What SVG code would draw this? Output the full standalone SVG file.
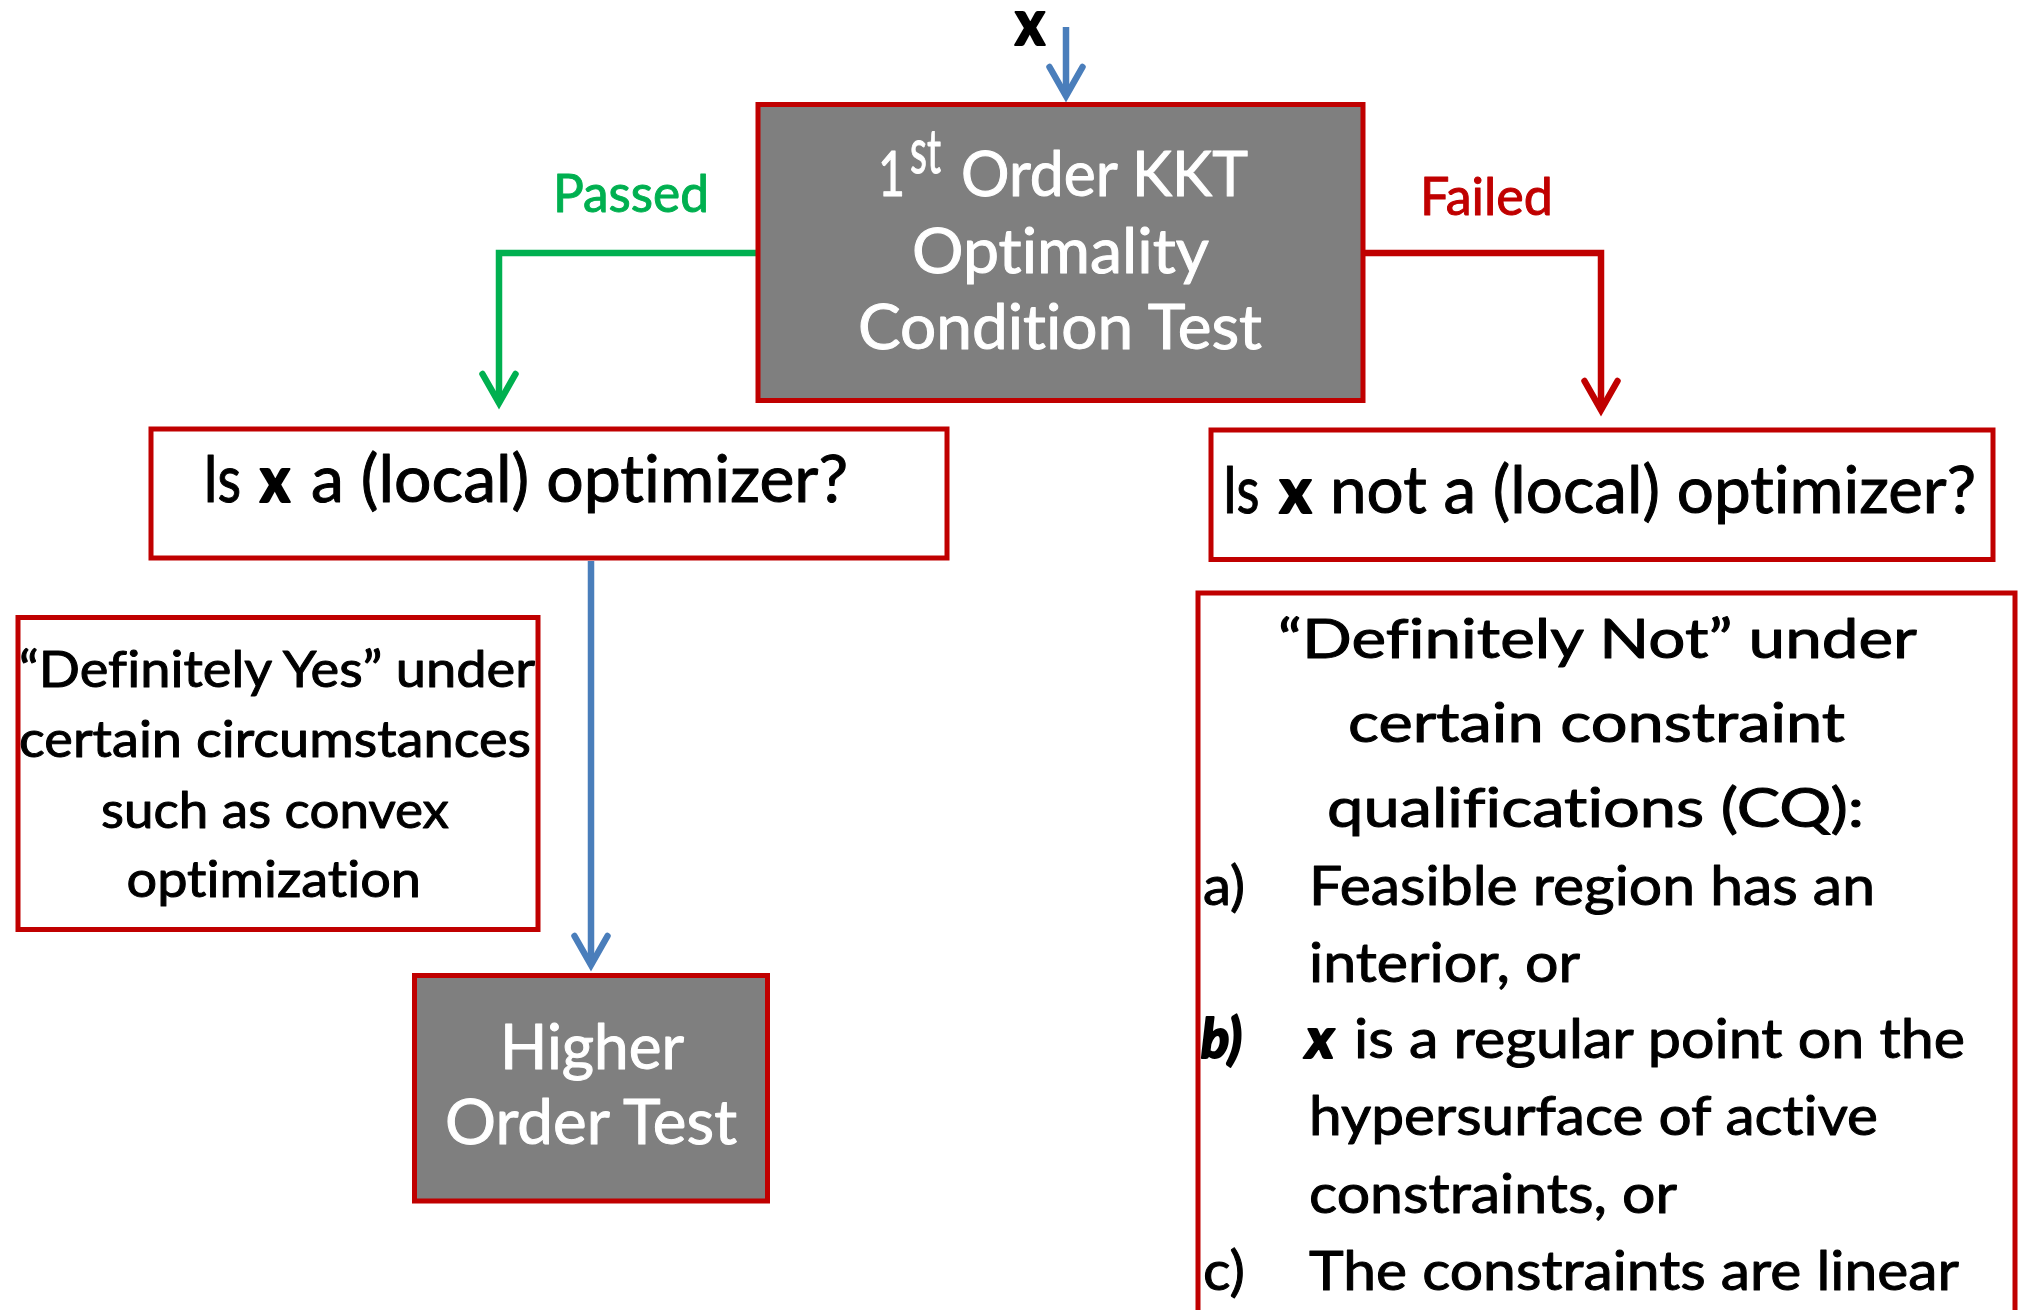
<svg xmlns="http://www.w3.org/2000/svg" width="2025" height="1310" viewBox="0 0 2025 1310">
  <style>
    .box { fill: #ffffff; stroke: #C00000; stroke-width: 5; }
    .dark { fill: #7F7F7F; stroke: #C00000; stroke-width: 5; }
    text { font-family: Lato, "Open Sans", "Liberation Sans", sans-serif; font-variant-ligatures: none; stroke-width: 1; stroke-linejoin: round; }
    .w { fill: #ffffff; stroke: #ffffff; font-size: 62px; }
    .q { fill: #000000; stroke: #000000; font-size: 65px; }
    .s { fill: #000000; stroke: #000000; font-size: 50px; }
    .n { fill: #000000; stroke: #000000; font-size: 55px; }
    .b { font-weight: 900; stroke-width: 2; }
    .bi { font-weight: 900; font-style: italic; stroke-width: 2; }
    .conn { fill: none; stroke-width: 6.5; stroke-linejoin: miter; }
  </style>
  <defs>
    <marker id="headBlue" markerUnits="userSpaceOnUse" markerWidth="60" markerHeight="60" refX="0" refY="0" orient="auto" overflow="visible">
      <path d="M-29,-16.5 L0,0 L-29,16.5" fill="none" stroke="#4A7EBB" stroke-width="6.5" stroke-linecap="round" stroke-linejoin="miter"/>
    </marker>
    <marker id="headGreen" markerUnits="userSpaceOnUse" markerWidth="60" markerHeight="60" refX="0" refY="0" orient="auto" overflow="visible">
      <path d="M-29,-16.5 L0,0 L-29,16.5" fill="none" stroke="#00B050" stroke-width="6.5" stroke-linecap="round" stroke-linejoin="miter"/>
    </marker>
    <marker id="headRed" markerUnits="userSpaceOnUse" markerWidth="60" markerHeight="60" refX="0" refY="0" orient="auto" overflow="visible">
      <path d="M-29,-16.5 L0,0 L-29,16.5" fill="none" stroke="#C00000" stroke-width="6.5" stroke-linecap="round" stroke-linejoin="miter"/>
    </marker>
  </defs>

  <!-- input label -->
  <g id="input-x">
    <text x="1015" y="45" class="q b" font-size="62" textLength="30" lengthAdjust="spacingAndGlyphs">x</text>
  </g>

  <!-- connectors -->
  <g id="connectors">
    <path class="conn" stroke="#4A7EBB" d="M1066,27 L1066,96" marker-end="url(#headBlue)"/>
    <path class="conn" stroke="#00B050" d="M757,253 L499,253 L499,403" marker-end="url(#headGreen)"/>
    <path class="conn" stroke="#C00000" d="M1365,253 L1601,253 L1601,410" marker-end="url(#headRed)"/>
    <path class="conn" stroke="#4A7EBB" d="M591,561 L591,965" marker-end="url(#headBlue)"/>
    <text x="553" y="212" fill="#00B050" stroke="#00B050" font-size="53" textLength="156" lengthAdjust="spacingAndGlyphs">Passed</text>
    <text x="1420" y="215" fill="#C00000" stroke="#C00000" font-size="53" textLength="133" lengthAdjust="spacingAndGlyphs">Failed</text>
  </g>

  <!-- first-order KKT test -->
  <g id="kkt-test">
    <rect class="dark" x="758" y="104.5" width="605" height="296"/>
    <text x="878" y="196" class="w" textLength="27" lengthAdjust="spacingAndGlyphs">1</text>
    <text x="910" y="173" class="w" font-size="37" textLength="31" lengthAdjust="spacingAndGlyphs">st</text>
    <text x="961" y="196" class="w" textLength="287" lengthAdjust="spacingAndGlyphs">Order KKT</text>
    <text x="912" y="273" class="w" textLength="297" lengthAdjust="spacingAndGlyphs">Optimality</text>
    <text x="858" y="349" class="w" textLength="404" lengthAdjust="spacingAndGlyphs">Condition Test</text>
  </g>

  <!-- passed branch question -->
  <g id="is-optimizer">
    <rect class="box" x="151" y="429" width="796" height="129"/>
    <text y="502" class="q">
      <tspan x="203" textLength="38" lengthAdjust="spacingAndGlyphs">Is</tspan>
      <tspan x="260" class="b" textLength="30" lengthAdjust="spacingAndGlyphs">x</tspan>
      <tspan x="311" textLength="537" lengthAdjust="spacingAndGlyphs">a (local) optimizer?</tspan>
    </text>
  </g>

  <!-- failed branch question -->
  <g id="is-not-optimizer">
    <rect class="box" x="1211" y="430" width="782" height="129.5"/>
    <text y="513" class="q">
      <tspan x="1222.5" textLength="37" lengthAdjust="spacingAndGlyphs">Is</tspan>
      <tspan x="1279.5" class="b" textLength="32" lengthAdjust="spacingAndGlyphs">x</tspan>
      <tspan x="1330" textLength="646" lengthAdjust="spacingAndGlyphs">not a (local) optimizer?</tspan>
    </text>
  </g>

  <!-- convex case note -->
  <g id="definitely-yes">
    <rect class="box" x="18" y="617.5" width="520" height="312"/>
    <text x="19" y="687" class="s" textLength="516" lengthAdjust="spacingAndGlyphs">“Definitely Yes” under</text>
    <text x="19" y="757" class="s" textLength="512" lengthAdjust="spacingAndGlyphs">certain circumstances</text>
    <text x="101" y="828" class="s" textLength="348" lengthAdjust="spacingAndGlyphs">such as convex</text>
    <text x="126.5" y="897" class="s" textLength="294.5" lengthAdjust="spacingAndGlyphs">optimization</text>
  </g>

  <!-- higher order test -->
  <g id="higher-order-test">
    <rect class="dark" x="414.5" y="975.5" width="353" height="225.5"/>
    <text x="500" y="1069" class="w" textLength="184" lengthAdjust="spacingAndGlyphs">Higher</text>
    <text x="445" y="1144" class="w" textLength="292" lengthAdjust="spacingAndGlyphs">Order Test</text>
  </g>

  <!-- constraint qualification note -->
  <g id="definitely-not">
    <rect class="box" x="1198" y="593" width="817" height="800"/>
    <text x="1278" y="658" class="n" textLength="639" lengthAdjust="spacingAndGlyphs">“Definitely Not” under</text>
    <text x="1348" y="742" class="n" textLength="497" lengthAdjust="spacingAndGlyphs">certain constraint</text>
    <text x="1327" y="827" class="n" textLength="537" lengthAdjust="spacingAndGlyphs">qualifications (CQ):</text>
    <text x="1203" y="905" class="n" textLength="42" lengthAdjust="spacingAndGlyphs">a)</text>
    <text x="1309" y="905" class="n" textLength="566" lengthAdjust="spacingAndGlyphs">Feasible region has an</text>
    <text x="1309" y="982" class="n" textLength="271" lengthAdjust="spacingAndGlyphs">interior, or</text>
    <text x="1201" y="1058" class="n bi" textLength="41" lengthAdjust="spacingAndGlyphs">b)</text>
    <text x="1306" y="1058" class="n bi" textLength="28" lengthAdjust="spacingAndGlyphs">x</text>
    <text x="1354" y="1058" class="n" textLength="611" lengthAdjust="spacingAndGlyphs">is a regular point on the</text>
    <text x="1309" y="1135" class="n" textLength="569" lengthAdjust="spacingAndGlyphs">hypersurface of active</text>
    <text x="1309" y="1213" class="n" textLength="368" lengthAdjust="spacingAndGlyphs">constraints, or</text>
    <text x="1203" y="1290" class="n" textLength="42" lengthAdjust="spacingAndGlyphs">c)</text>
    <text x="1309" y="1290" class="n" textLength="650" lengthAdjust="spacingAndGlyphs">The constraints are linear</text>
  </g>
</svg>
